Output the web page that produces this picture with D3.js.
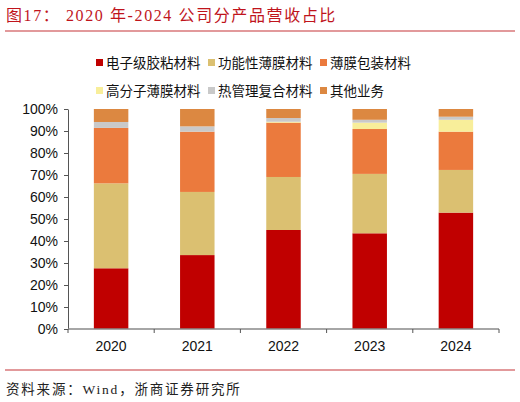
<!DOCTYPE html>
<html>
<head>
<meta charset="utf-8">
<script src="https://cdn.jsdelivr.net/npm/d3@7"></script>
<style>
  body { margin: 0; background: #fff; }
  text { font-family: Arial, "Liberation Sans", "Noto Sans CJK SC", sans-serif; }
</style>
</head>
<body>
<div id="chart"></div>
<script>
const years = ["2020", "2021", "2022", "2023", "2024"]
const seriesNames = ["电子级胶粘材料", "功能性薄膜材料", "薄膜包装材料", "高分子薄膜材料", "热管理复合材料", "其他业务"]
const seriesColors = ["#C00000", "#DBC071", "#EB7A3D", "#F8EE9A", "#C9C9C9", "#DC8841"]
// share of revenue, percent, one array per series in year order
const adhesive   = [27.6, 33.6, 45.0, 43.5, 52.9]
const functional = [38.6, 28.7, 24.1, 27.0, 19.4]
const packaging  = [25.2, 27.4, 24.7, 20.4, 17.4]
const polymer    = [0.0, 0.0, 0.4, 2.9, 5.4]
const thermal    = [2.7, 2.4, 1.7, 1.3, 1.4]
const other      = [5.9, 7.9, 4.1, 4.9, 3.5]
const yTicks = [0, 10, 20, 30, 40, 50, 60, 70, 80, 90, 100]

const allSeries = [adhesive, functional, packaging, polymer, thermal, other]
const rows = years.map((y, i) => {
  const row = { year: y }
  seriesNames.forEach((n, k) => { row[n] = allSeries[k][i] })
  return row
})

const W = 520, H = 402
const margin = { top: 109, right: 21, bottom: 73, left: 68 }
const width = W - margin.left - margin.right
const height = H - margin.top - margin.bottom

const svg = d3.select("#chart").append("svg")
  .attr("width", W).attr("height", H)

// title + rules
svg.append("text")
  .attr("x", 6).attr("y", 21)
  .style("font-family", "'Liberation Serif', 'Noto Sans CJK SC', serif")
  .style("font-size", "16px")
  .style("letter-spacing", "1.6px")
  .style("fill", "#C0141C")
  .text("图17： 2020 年-2024 公司分产品营收占比")
svg.append("line")
  .attr("x1", 5).attr("x2", 515).attr("y1", 31).attr("y2", 31)
  .style("stroke", "#D9777A").style("stroke-width", 1.5)
svg.append("line")
  .attr("x1", 5).attr("x2", 515).attr("y1", 370).attr("y2", 370)
  .style("stroke", "#D9777A").style("stroke-width", 1.5)
svg.append("text")
  .attr("x", 6).attr("y", 394)
  .style("font-family", "'Liberation Serif', 'Noto Sans CJK SC', serif")
  .style("font-size", "13.5px")
  .style("letter-spacing", "1.8px")
  .style("fill", "#222")
  .text("资料来源：Wind，浙商证券研究所")

// legend
const legendPos = [[96, 63], [208, 63], [320, 63], [96, 91], [208, 91], [320, 91]]
const legend = svg.append("g")
seriesNames.forEach((n, k) => {
  const [lx, ly] = legendPos[k]
  legend.append("rect")
    .attr("x", lx).attr("y", ly - 4).attr("width", 7).attr("height", 7)
    .style("fill", seriesColors[k])
  legend.append("text")
    .attr("x", lx + 10).attr("y", ly + 5)
    .style("font-family", "'Noto Sans CJK SC', sans-serif")
    .style("font-size", "13.5px")
    .style("fill", "#111")
    .text(n)
})

const g = svg.append("g").attr("transform", `translate(${margin.left},${margin.top})`)

const x = d3.scaleBand().domain(years).range([0, width]).paddingInner(0.6).paddingOuter(0.3)
const y = d3.scaleLinear().domain([0, 100]).range([height, 0])

const stacked = d3.stack().keys(seriesNames)(rows)

g.selectAll(".layer")
  .data(stacked)
  .enter().append("g")
  .attr("class", "layer")
  .style("fill", (d, k) => seriesColors[k])
  .selectAll("rect")
  .data(d => d)
  .enter().append("rect")
  .attr("x", d => x(d.data.year))
  .attr("width", x.bandwidth())
  .attr("y", d => y(d[1]))
  .attr("height", d => y(d[0]) - y(d[1]))

// y axis
const yAxis = g.append("g")
  .call(d3.axisLeft(y).tickValues(yTicks).tickFormat(d => d + "%").tickSize(4).tickSizeOuter(0))
yAxis.select(".domain").style("stroke", "#555")
yAxis.selectAll(".tick line").style("stroke", "#555")
yAxis.selectAll("text")
  .attr("x", -10)
  .style("font-size", "14px").style("fill", "#111")

// x axis with ticks at band edges
const xAxis = g.append("g").attr("transform", `translate(0,${height})`)
xAxis.append("line").attr("x1", 0).attr("x2", width).style("stroke", "#888").style("stroke-width", 1.5)
const edges = d3.range(years.length + 1).map(i => i * width / years.length)
xAxis.selectAll(".edge").data(edges).enter().append("line")
  .attr("x1", d => d).attr("x2", d => d).attr("y1", 0).attr("y2", 4)
  .style("stroke", "#555")
xAxis.selectAll(".lbl").data(years).enter().append("text")
  .attr("x", d => x(d) + x.bandwidth() / 2)
  .attr("y", 22)
  .attr("text-anchor", "middle")
  .style("font-size", "14px").style("fill", "#111")
  .text(d => d)
</script>
</body>
</html>
